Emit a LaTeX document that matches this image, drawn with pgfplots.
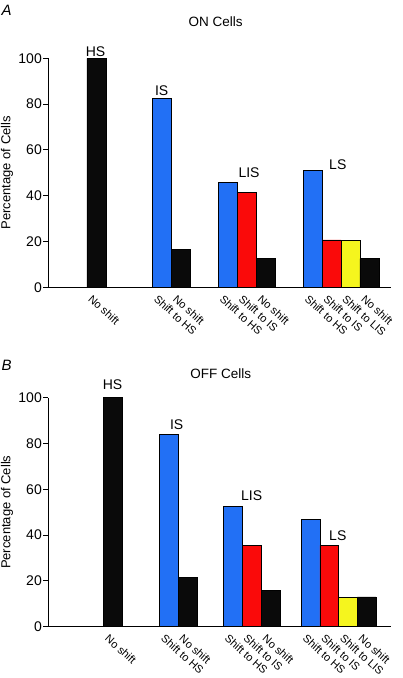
\documentclass[border=0pt]{standalone}
\usepackage{fontspec}
\setmainfont{Liberation Sans}
\usepackage{pgfplots}
\pgfplotsset{compat=1.18}
\definecolor{barblue}{RGB}{34,112,245}
\definecolor{barred}{RGB}{250,10,10}
\definecolor{baryellow}{RGB}{245,245,30}
\definecolor{barblack}{RGB}{10,10,10}
\tikzset{barlab/.style={font=\fontsize{14}{15}\selectfont}}
\pgfplotsset{
 panel/.style={
  scale only axis, width=343pt, height=229pt,
  xmin=0, xmax=18.05, ymin=0, ymax=100,
  axis x line*=bottom, axis y line*=left,
  axis line style={line width=0.9pt},
  ytick={0,20,...,100},
  tick align=outside, major tick length=4.5pt,
  ytick style={draw=black, line width=0.9pt},
  xtick style={draw=none},
  xticklabel style={rotate=-42, anchor=north west, font=\fontsize{11}{12}\selectfont, inner sep=0pt, xshift=-1pt, yshift=-4pt},
  yticklabel style={font=\fontsize{14}{15}\selectfont, inner sep=1.5pt},
  /pgf/number format/assume math mode=true,
  every axis y label/.style={at={(axis description cs:0,0.5)}, xshift=-41pt, rotate=90, anchor=center, font=\fontsize{13}{14}\selectfont},
  ylabel={Percentage of Cells},
  ybar, bar shift=0pt,
  clip=false,
  every axis plot/.append style={draw=black, line width=0.5pt},
 },
}
\begin{document}
\begin{tikzpicture}
\path[use as bounding box] (0,0) rectangle (403pt,678pt);
\node[font=\fontsize{15}{16}\selectfont\itshape] at (6.7pt,668pt) {A};
\node[font=\fontsize{13.5}{15}\selectfont] at (215.7pt,656.3pt) {ON Cells};
\node[font=\fontsize{15}{16}\selectfont\itshape] at (6.7pt,313pt) {B};
\node[font=\fontsize{13.5}{15}\selectfont] at (220.7pt,304.7pt) {OFF Cells};
% Panel A
\begin{axis}[panel, at={(48pt,390.7pt)}, anchor=south west, bar width=1,
  xtick={2.54,6.0,7.0,9.46,10.47,11.47,13.94,14.93,15.91,16.91},
  xticklabels={No shift,Shift to HS,No shift,Shift to HS,Shift to IS,No shift,Shift to HS,Shift to IS,Shift to LIS,No shift}]
\addplot[fill=barblue] coordinates {(6.0,82.5) (9.46,45.8) (13.94,50.9)};
\addplot[fill=barred] coordinates {(10.47,41.3) (14.93,20.7)};
\addplot[fill=baryellow] coordinates {(15.91,20.7)};
\addplot[fill=barblack] coordinates {(2.54,100) (7.0,16.7) (11.47,12.5) (16.91,12.5)};
\node[barlab] at (axis cs:2.5,103) {HS};
\node[barlab] at (axis cs:5.98,86) {IS};
\node[barlab] at (axis cs:10.58,50.2) {LIS};
\node[barlab] at (axis cs:15.25,53.7) {LS};
\end{axis}
% Panel B
\begin{axis}[panel, at={(48pt,51.3pt)}, anchor=south west, bar width=0.98,
  xtick={3.42,6.37,7.34,9.73,10.72,11.71,13.83,14.8,15.79,16.77},
  xticklabels={No shift,Shift to HS,No shift,Shift to HS,Shift to IS,No shift,Shift to HS,Shift to IS,Shift to LIS,No shift}]
\addplot[fill=barblue] coordinates {(6.37,84.0) (9.73,52.4) (13.83,47.0)};
\addplot[fill=barred] coordinates {(10.72,35.5) (14.8,35.5)};
\addplot[fill=baryellow] coordinates {(15.79,13.0)};
\addplot[fill=barblack] coordinates {(3.42,100) (7.34,21.5) (11.71,15.7) (16.77,13.0)};
\node[barlab] at (axis cs:3.4,105.8) {HS};
\node[barlab] at (axis cs:6.77,88.1) {IS};
\node[barlab] at (axis cs:10.72,57.1) {LIS};
\node[barlab] at (axis cs:15.25,39.6) {LS};
\end{axis}
\end{tikzpicture}
\end{document}
